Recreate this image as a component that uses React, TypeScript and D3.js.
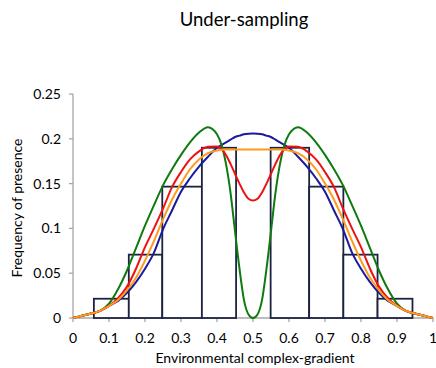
import React from "react";
import * as d3 from "d3";

const gradient = [
  0, 0.025, 0.05, 0.075, 0.1, 0.125, 0.15, 0.175, 0.2, 0.225, 0.25, 0.275, 0.3, 0.325, 0.35, 0.375, 0.4, 0.425, 0.4375, 0.45, 0.4625, 0.475, 0.4875, 0.5,
  0.5125, 0.525, 0.5375, 0.55, 0.5625, 0.575, 0.6, 0.625, 0.65, 0.675, 0.7, 0.725, 0.75, 0.775, 0.8, 0.825, 0.85, 0.875, 0.9, 0.925, 0.95, 0.975, 1,
];

const blueValues = [
  0, 0.0025, 0.005, 0.008, 0.0135, 0.019, 0.028, 0.04, 0.055, 0.073, 0.099, 0.12, 0.141, 0.156, 0.169, 0.18, 0.19, 0.196, 0.199, 0.202, 0.2035, 0.205, 0.2057, 0.206,
  0.2057, 0.205, 0.2035, 0.202, 0.199, 0.196, 0.19, 0.18, 0.169, 0.156, 0.141, 0.12, 0.099, 0.073, 0.055, 0.04, 0.028, 0.019, 0.0135, 0.008, 0.005, 0.0025, 0,
];

const greenValues = [
  0, 0.0025, 0.005, 0.008, 0.016, 0.032, 0.053, 0.078, 0.103, 0.126, 0.148, 0.166, 0.182, 0.196, 0.207, 0.213, 0.205, 0.172, 0.14, 0.097, 0.055, 0.02, 0.004, 0,
  0.004, 0.02, 0.055, 0.097, 0.14, 0.172, 0.205, 0.213, 0.207, 0.196, 0.182, 0.166, 0.148, 0.126, 0.103, 0.078, 0.053, 0.032, 0.016, 0.008, 0.005, 0.0025, 0,
];

const redValues = [
  0, 0.0025, 0.005, 0.008, 0.0135, 0.022, 0.035, 0.055, 0.079, 0.1, 0.122, 0.146, 0.163, 0.177, 0.186, 0.191, 0.1915, 0.182, 0.172, 0.161, 0.15, 0.14, 0.133, 0.131,
  0.133, 0.14, 0.15, 0.161, 0.172, 0.182, 0.1915, 0.191, 0.186, 0.177, 0.163, 0.146, 0.122, 0.1, 0.079, 0.055, 0.035, 0.022, 0.0135, 0.008, 0.005, 0.0025, 0,
];

const orangeValues = [
  0, 0.0025, 0.005, 0.008, 0.0135, 0.02, 0.031, 0.045, 0.064, 0.086, 0.11, 0.132, 0.15, 0.166, 0.177, 0.184, 0.187, 0.188, 0.188, 0.188, 0.188, 0.188, 0.188, 0.188,
  0.188, 0.188, 0.188, 0.188, 0.188, 0.188, 0.187, 0.184, 0.177, 0.166, 0.15, 0.132, 0.11, 0.086, 0.064, 0.045, 0.031, 0.02, 0.0135, 0.008, 0.005, 0.0025, 0,
];

const binEdges = [0.058, 0.155, 0.248, 0.358, 0.453, 0.549, 0.656, 0.751, 0.846, 0.943];
const binHeights = [0.0215, 0.0707, 0.1466, 0.19, 0, 0.19, 0.1466, 0.0707, 0.0215];

const xTicks = [0, 0.1, 0.2, 0.3, 0.4, 0.5, 0.6, 0.7, 0.8, 0.9, 1];
const xTickLabels = ["0", "0.1", "0.2", "0.3", "0.4", "0.5", "0.6", "0.7", "0.8", "0.9", "1"];
const yTicks = [0, 0.05, 0.1, 0.15, 0.2, 0.25];
const yTickLabels = ["0", "0.05", "0.1", "0.15", "0.2", "0.25"];

const series = [
  { name: "blue", values: blueValues, color: "#1a1a9c" },
  { name: "green", values: greenValues, color: "#0f7a0f" },
  { name: "red", values: redValues, color: "#ee1111" },
  { name: "orange", values: orangeValues, color: "#ff9a1a" },
];

const W = 436;
const H = 368;
const font = "Lato, 'Open Sans', sans-serif";

export default function App() {
  const x = d3.scaleLinear().domain([0, 1]).range([73, 433]);
  const y = d3.scaleLinear().domain([0, 0.25]).range([318, 94]);
  const line = d3
    .line<number>()
    .x((_, i) => x(gradient[i]))
    .y((d) => y(d))
    .curve(d3.curveMonotoneX);

  const axisColor = "#a6a6a6";
  const barColor = "#1c2340";

  return (
    <svg width={W} height={H} style={{ position: "absolute", left: 0, top: 0, background: "#fff" }}>
      <text x={244} y={26} textAnchor="middle" fontFamily={font} fontSize={18.5} fill="#000">
        Under-sampling
      </text>

      {/* axes */}
      <line x1={x(0)} x2={x(0)} y1={y(0.25)} y2={y(0)} stroke={axisColor} strokeWidth={1.3} />
      {yTicks.map((t, i) => (
        <g key={"yt" + i}>
          <line x1={x(0) - 4} x2={x(0)} y1={y(t)} y2={y(t)} stroke={axisColor} strokeWidth={1.3} />
          <text x={61} y={y(t)} dy="0.35em" textAnchor="end" fontFamily={font} fontSize={14} fill="#000">
            {yTickLabels[i]}
          </text>
        </g>
      ))}
      <line x1={x(0)} x2={x(1)} y1={y(0)} y2={y(0)} stroke={axisColor} strokeWidth={1.3} />
      {xTicks.map((t, i) => (
        <g key={"xt" + i}>
          <line x1={x(t)} x2={x(t)} y1={y(0)} y2={y(0) + 4} stroke={axisColor} strokeWidth={1.3} />
          <text x={x(t)} y={343} textAnchor="middle" fontFamily={font} fontSize={14} fill="#000">
            {xTickLabels[i]}
          </text>
        </g>
      ))}

      {/* bars */}
      {binHeights.map((h, i) =>
        h > 0 ? (
          <rect
            key={"b" + i}
            x={x(binEdges[i])}
            y={y(h)}
            width={x(binEdges[i + 1]) - x(binEdges[i])}
            height={y(0) - y(h)}
            fill="#fff"
            stroke={barColor}
            strokeWidth={1.8}
          />
        ) : null
      )}

      {/* curves */}
      {series.map((s) => (
        <path key={s.name} d={line(s.values) || ""} fill="none" stroke={s.color} strokeWidth={2} />
      ))}

      <text x={255} y={363} textAnchor="middle" fontFamily={font} fontSize={14} fill="#000">
        Environmental complex-gradient
      </text>
      <text
        transform={`translate(22, 208) rotate(-90)`}
        textAnchor="middle"
        fontFamily={font}
        fontSize={14}
        fill="#000"
      >
        Frequency of presence
      </text>
    </svg>
  );
}
